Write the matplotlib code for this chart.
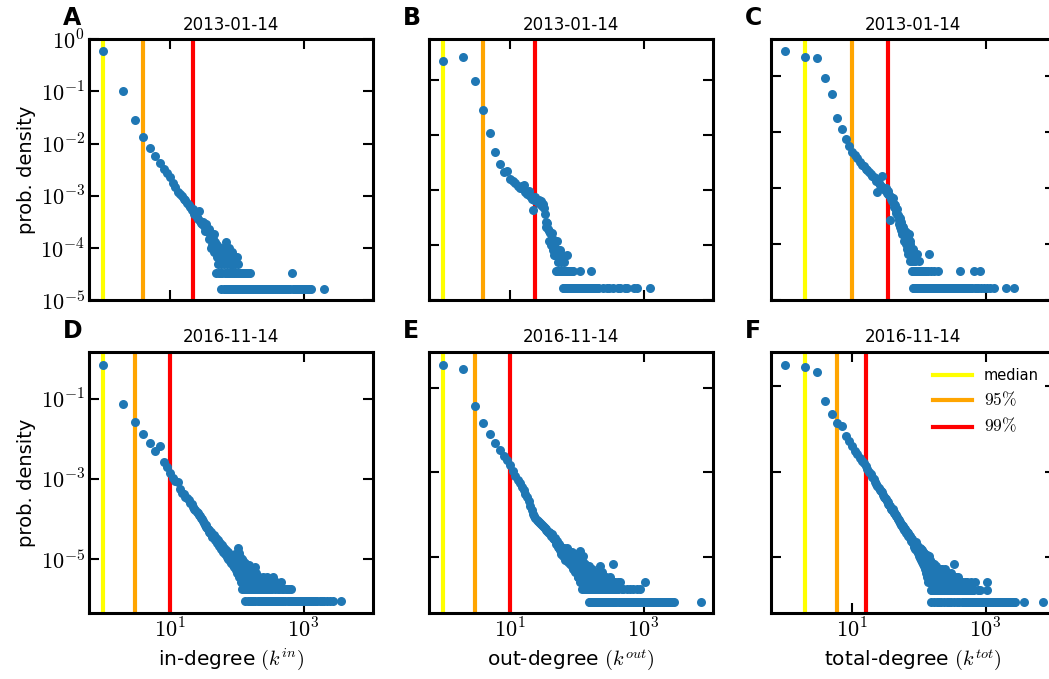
import numpy as np
import matplotlib
matplotlib.use("Agg")
import matplotlib.pyplot as plt
from matplotlib.ticker import FuncFormatter, LogLocator, NullLocator

plt.rcParams['mathtext.fontset'] = 'cm'

# number of nodes in each snapshot
n_2013 = 60000
n_2016 = 1153000

# degree distributions: (degree, number of nodes with that degree)
in_2013 = [
    (1, 36000), (2, 6240), (3, 1740), (4, 810), (5, 486), (6, 348), (7, 258), (8, 198),
    (9, 168), (10, 138), (11, 108), (12, 89), (13, 72), (14, 64), (15, 61), (16, 53),
    (17, 50), (18, 43), (19, 40), (20, 36), (21, 32), (22, 33), (23, 27), (24, 29),
    (25, 24), (26, 22), (27, 31), (28, 20), (29, 18), (30, 17), (31, 19), (32, 16),
    (33, 13), (34, 17), (35, 15), (36, 13), (37, 12), (38, 14), (39, 9), (40, 12),
    (41, 6), (42, 10), (43, 7), (44, 9), (45, 11), (46, 5), (47, 8), (48, 6),
    (49, 2), (50, 4), (51, 7), (52, 3), (53, 5), (54, 2), (55, 4), (56, 6),
    (57, 2), (58, 3), (59, 1), (60, 5), (61, 2), (62, 4), (63, 6), (64, 1),
    (65, 3), (66, 2), (67, 4), (68, 8), (69, 1), (70, 5), (71, 2), (72, 3),
    (73, 1), (74, 4), (75, 2), (76, 6), (77, 1), (78, 3), (79, 2), (80, 4),
    (81, 1), (83, 3), (84, 2), (86, 5), (87, 1), (88, 3), (90, 4), (91, 2),
    (93, 1), (95, 3), (97, 2), (99, 1), (100, 4), (103, 2), (105, 3), (106, 1),
    (110, 2), (113, 1), (117, 2), (120, 1), (124, 2), (128, 1), (131, 2), (136, 1),
    (139, 2), (145, 1), (148, 2), (154, 1), (157, 2), (164, 1), (175, 1), (186, 1),
    (198, 1), (211, 1), (225, 1), (240, 1), (256, 1), (273, 1), (291, 1), (310, 1),
    (331, 1), (353, 1), (376, 1), (401, 1), (428, 1), (456, 1), (486, 1), (518, 1),
    (552, 1), (588, 1), (627, 1), (670, 2), (690, 1), (735, 1), (784, 1), (836, 1),
    (891, 1), (950, 1), (1013, 1), (1080, 1), (1151, 1), (1227, 1), (1300, 1), (2000, 1),
]

out_2013 = [
    (1, 13100), (2, 15700), (3, 5760), (4, 1690), (5, 637), (6, 288), (7, 177), (8, 125),
    (9, 130), (10, 93), (11, 88), (12, 80), (13, 70), (14, 64), (15, 72), (16, 75),
    (17, 55), (18, 50), (19, 58), (20, 46), (21, 42), (22, 26), (23, 40), (24, 44),
    (25, 38), (26, 36), (27, 40), (28, 34), (29, 38), (30, 31), (31, 34), (32, 28),
    (33, 22), (34, 16), (35, 13), (36, 15), (37, 12), (38, 7), (39, 11), (40, 10),
    (41, 6), (42, 10), (43, 8), (44, 5), (45, 4), (46, 6), (47, 4), (48, 2),
    (49, 5), (50, 7), (51, 2), (52, 5), (53, 3), (54, 2), (55, 4), (56, 5),
    (57, 2), (58, 3), (59, 2), (60, 4), (62, 1), (63, 2), (64, 3), (65, 1),
    (66, 2), (68, 1), (70, 2), (71, 4), (72, 1), (74, 2), (75, 1), (77, 1),
    (78, 2), (80, 1), (82, 2), (83, 1), (85, 2), (86, 1), (88, 2), (89, 1),
    (92, 1), (95, 1), (98, 1), (101, 1), (104, 1), (107, 1), (110, 2), (111, 1),
    (115, 1), (119, 1), (123, 1), (128, 1), (133, 1), (138, 1), (144, 1), (150, 1),
    (156, 1), (162, 2), (163, 1), (170, 1), (178, 1), (186, 1), (195, 1), (205, 1),
    (211, 1), (250, 1), (282, 1), (300, 1), (355, 1), (420, 1), (447, 1), (530, 1),
    (560, 1), (708, 1), (794, 1), (1230, 1),
]

tot_2013 = [
    (1, 17300), (2, 13150), (3, 13000), (4, 5530), (5, 2860), (6, 1096), (7, 678), (8, 449),
    (9, 341), (10, 270), (11, 232), (12, 205), (13, 175), (14, 160), (15, 150), (16, 135),
    (17, 128), (18, 118), (19, 110), (20, 100), (21, 96), (22, 90), (23, 82), (24, 52),
    (25, 76), (26, 70), (27, 66), (28, 98), (29, 60), (30, 58), (31, 55), (32, 62),
    (33, 50), (34, 54), (35, 47), (36, 45), (37, 16), (38, 42), (39, 38), (40, 35),
    (41, 40), (42, 32), (43, 28), (44, 30), (45, 25), (46, 22), (47, 26), (48, 19),
    (49, 20), (50, 16), (51, 14), (52, 18), (53, 12), (54, 15), (55, 11), (56, 13),
    (57, 9), (58, 12), (59, 10), (60, 7), (61, 11), (62, 8), (63, 9), (64, 6),
    (65, 10), (66, 7), (67, 5), (68, 8), (69, 4), (70, 6), (71, 9), (72, 5),
    (73, 7), (74, 3), (75, 6), (76, 4), (77, 5), (78, 3), (79, 2), (80, 4),
    (81, 1), (82, 5), (83, 2), (84, 3), (85, 1), (86, 4), (87, 2), (88, 1),
    (89, 3), (90, 2), (91, 1), (93, 2), (94, 4), (95, 1), (97, 2), (98, 1),
    (100, 3), (101, 2), (103, 1), (105, 2), (107, 1), (110, 2), (112, 1), (115, 2),
    (118, 1), (121, 2), (124, 1), (128, 2), (131, 1), (135, 1), (139, 2), (141, 4),
    (143, 1), (148, 1), (150, 2), (153, 1), (158, 1), (163, 1), (168, 2), (169, 1),
    (175, 1), (181, 1), (188, 1), (195, 2), (196, 1), (204, 1), (213, 1), (222, 1),
    (232, 1), (243, 1), (255, 1), (268, 1), (282, 1), (297, 1), (313, 1), (330, 1),
    (348, 1), (367, 1), (387, 1), (408, 1), (421, 2), (430, 1), (453, 1), (477, 1),
    (503, 1), (530, 1), (558, 1), (588, 1), (620, 1), (668, 2), (700, 1), (740, 1),
    (780, 1), (841, 2), (860, 1), (950, 1), (1050, 1), (1150, 1), (1334, 1), (1995, 1),
    (2660, 1),
]

in_2016 = [
    (1, 809000), (2, 83400), (3, 30300), (4, 14650), (5, 9080), (6, 5640), (7, 7500), (8, 3050),
    (9, 2300), (10, 1570), (11, 1175), (12, 1000), (13, 950), (14, 640), (15, 516), (16, 470),
    (17, 411), (18, 370), (19, 330), (20, 281), (21, 260), (22, 225), (23, 200), (24, 190),
    (25, 170), (26, 155), (27, 140), (28, 131), (29, 120), (30, 110), (31, 100), (32, 92),
    (33, 80), (34, 78), (35, 70), (36, 68), (37, 62), (38, 60), (39, 55), (40, 50),
    (41, 55), (42, 46), (43, 40), (44, 42), (45, 44), (46, 38), (47, 33), (48, 36),
    (49, 38), (50, 34), (51, 28), (52, 30), (53, 33), (54, 28), (55, 24), (56, 26),
    (57, 29), (58, 24), (59, 20), (60, 23), (61, 25), (62, 21), (63, 17), (64, 19),
    (65, 21), (66, 18), (67, 15), (68, 17), (69, 19), (70, 16), (71, 13), (72, 14),
    (73, 17), (74, 13), (75, 11), (76, 14), (77, 15), (78, 12), (79, 10), (80, 11),
    (81, 14), (82, 12), (83, 9), (84, 10), (85, 13), (86, 11), (87, 8), (88, 9),
    (89, 12), (90, 10), (91, 7), (92, 8), (93, 11), (94, 9), (95, 15), (96, 7),
    (97, 6), (98, 8), (99, 10), (100, 6), (101, 5), (102, 9), (103, 12), (104, 7),
    (105, 8), (106, 21), (107, 16), (108, 5), (109, 4), (110, 7), (111, 10), (112, 6),
    (113, 13), (114, 4), (115, 3), (116, 8), (117, 9), (118, 5), (119, 11), (120, 3),
    (121, 2), (122, 6), (123, 8), (124, 4), (125, 10), (126, 3), (127, 4), (128, 5),
    (129, 7), (130, 2), (131, 9), (133, 1), (134, 6), (135, 4), (137, 8), (138, 3),
    (139, 2), (140, 5), (141, 7), (142, 2), (144, 5), (145, 1), (147, 6), (148, 3),
    (150, 4), (151, 8), (153, 2), (155, 3), (156, 1), (158, 5), (160, 3), (162, 6),
    (163, 2), (165, 4), (166, 1), (168, 5), (170, 4), (172, 3), (174, 2), (176, 6),
    (178, 1), (180, 2), (182, 3), (184, 4), (186, 2), (188, 7), (190, 1), (192, 5),
    (195, 2), (198, 2), (200, 3), (203, 4), (205, 1), (210, 2), (213, 3), (216, 1),
    (219, 4), (222, 3), (226, 2), (228, 1), (234, 2), (237, 3), (240, 1), (244, 4),
    (247, 2), (251, 2), (254, 1), (258, 3), (261, 2), (268, 1), (272, 2), (276, 1),
    (280, 4), (284, 3), (292, 1), (296, 2), (300, 2), (310, 1), (315, 3), (320, 2),
    (330, 1), (335, 2), (340, 1), (350, 4), (355, 3), (365, 1), (372, 2), (380, 1),
    (390, 3), (395, 1), (410, 2), (425, 1), (430, 2), (445, 1), (455, 3), (465, 1),
    (475, 2), (485, 1), (501, 2), (520, 1), (540, 2), (560, 2), (580, 1), (600, 2),
    (610, 1), (640, 1), (650, 2), (670, 1), (700, 1), (740, 1), (780, 1), (830, 1),
    (880, 1), (940, 1), (1000, 1), (1070, 1), (1140, 1), (1220, 1), (1300, 1), (1400, 1),
    (1500, 1), (1620, 1), (1750, 1), (1900, 1), (2050, 1), (2250, 1), (2500, 1), (2800, 1),
    (3700, 1),
]

out_2016 = [
    (1, 401000), (2, 311000), (3, 42800), (4, 16400), (5, 9040), (6, 5750), (7, 3860), (8, 2840),
    (9, 2250), (10, 1720), (11, 1250), (12, 950), (13, 780), (14, 640), (15, 520), (16, 430),
    (17, 360), (18, 300), (19, 240), (20, 190), (21, 150), (22, 120), (23, 105), (24, 95),
    (25, 88), (26, 82), (27, 78), (28, 73), (29, 68), (30, 65), (31, 62), (32, 60),
    (33, 56), (34, 54), (35, 51), (36, 48), (37, 46), (38, 44), (39, 43), (40, 42),
    (41, 36), (42, 38), (43, 40), (44, 33), (45, 30), (46, 30), (47, 33), (48, 27),
    (49, 24), (50, 25), (51, 28), (52, 22), (53, 20), (54, 19), (55, 23), (56, 17),
    (57, 21), (58, 16), (59, 14), (60, 15), (61, 18), (62, 14), (63, 12), (64, 19),
    (65, 16), (66, 13), (67, 10), (68, 11), (69, 15), (70, 12), (71, 18), (72, 19),
    (73, 9), (74, 10), (75, 14), (76, 13), (77, 11), (78, 9), (79, 8), (80, 14),
    (81, 13), (82, 8), (83, 10), (84, 11), (85, 15), (86, 7), (87, 6), (88, 10),
    (89, 12), (90, 9), (91, 9), (92, 6), (93, 14), (94, 8), (95, 5), (96, 12),
    (97, 10), (98, 7), (99, 8), (100, 5), (101, 13), (102, 9), (103, 4), (104, 6),
    (105, 11), (106, 4), (107, 7), (108, 8), (109, 10), (110, 5), (111, 3), (112, 16),
    (113, 9), (114, 3), (115, 12), (116, 7), (117, 5), (118, 4), (119, 8), (120, 6),
    (121, 2), (122, 3), (123, 7), (124, 12), (125, 9), (126, 5), (127, 4), (128, 2),
    (129, 6), (130, 4), (131, 3), (132, 6), (133, 8), (134, 3), (135, 5), (136, 2),
    (137, 7), (138, 5), (139, 2), (140, 3), (141, 6), (142, 4), (144, 4), (145, 2),
    (147, 5), (148, 3), (150, 1), (151, 7), (152, 5), (154, 3), (155, 2), (157, 4),
    (158, 1), (160, 3), (162, 5), (164, 2), (166, 3), (168, 1), (170, 6), (172, 4),
    (174, 2), (176, 2), (178, 4), (180, 1), (183, 5), (185, 3), (188, 3), (190, 2),
    (193, 4), (195, 1), (198, 2), (200, 3), (203, 5), (206, 1), (209, 3), (212, 2),
    (215, 4), (218, 1), (221, 2), (224, 7), (226, 1), (229, 3), (232, 2), (236, 5),
    (240, 1), (244, 2), (248, 3), (252, 4), (256, 1), (260, 3), (264, 2), (268, 2),
    (272, 1), (277, 4), (282, 3), (286, 2), (290, 1), (295, 3), (300, 2), (305, 2),
    (310, 1), (315, 4), (320, 2), (327, 3), (332, 1), (340, 2), (345, 1), (350, 3),
    (355, 8), (358, 2), (365, 2), (370, 1), (380, 3), (385, 1), (395, 2), (400, 2),
    (410, 2), (420, 3), (425, 1), (440, 3), (450, 1), (470, 2), (480, 1), (500, 2),
    (510, 1), (540, 1), (560, 2), (575, 1), (610, 1), (620, 2), (650, 1), (690, 1),
    (700, 2), (735, 1), (780, 1), (794, 2), (830, 1), (880, 1), (900, 2), (940, 1),
    (1000, 1), (1060, 3), (1065, 1), (1130, 1), (1200, 1), (1280, 1), (1360, 1), (1450, 1),
    (1550, 1), (1650, 1), (1760, 1), (1880, 1), (2000, 1), (2150, 1), (2300, 1), (2480, 1),
    (2650, 1), (2820, 1), (7200, 1),
]

tot_2016 = [
    (1, 352000), (2, 321000), (3, 245000), (4, 51600), (5, 25200), (6, 16100), (7, 13500), (8, 7870),
    (9, 6010), (10, 4600), (11, 3520), (12, 2900), (13, 2400), (14, 2050), (15, 1800), (16, 1550),
    (17, 1300), (18, 1150), (19, 1000), (20, 880), (21, 760), (22, 660), (23, 590), (24, 520),
    (25, 470), (26, 430), (27, 400), (28, 374), (29, 330), (30, 300), (31, 280), (32, 260),
    (33, 240), (34, 220), (35, 200), (36, 190), (37, 180), (38, 165), (39, 155), (40, 145),
    (41, 150), (42, 130), (43, 125), (44, 118), (45, 110), (46, 105), (47, 100), (48, 92),
    (49, 88), (50, 84), (51, 80), (52, 76), (53, 72), (54, 70), (55, 64), (56, 66),
    (57, 63), (58, 60), (59, 55), (60, 56), (61, 50), (62, 52), (63, 49), (64, 48),
    (65, 42), (66, 45), (67, 44), (68, 42), (69, 36), (70, 40), (71, 38), (72, 36),
    (73, 32), (74, 34), (75, 36), (76, 32), (77, 27), (78, 29), (79, 31), (80, 27),
    (81, 24), (82, 25), (83, 28), (84, 24), (85, 20), (86, 22), (87, 25), (88, 21),
    (89, 18), (90, 23), (91, 26), (92, 19), (93, 16), (94, 20), (95, 22), (96, 17),
    (97, 14), (98, 18), (99, 20), (100, 15), (101, 12), (102, 17), (103, 19), (104, 14),
    (105, 11), (106, 16), (107, 18), (108, 13), (109, 10), (110, 12), (111, 17), (112, 14),
    (113, 9), (114, 11), (115, 15), (116, 12), (117, 8), (118, 10), (119, 14), (120, 11),
    (121, 7), (122, 9), (123, 13), (124, 10), (125, 6), (126, 8), (127, 12), (128, 9),
    (129, 5), (130, 7), (131, 13), (132, 11), (133, 4), (134, 8), (135, 11), (136, 6),
    (137, 3), (138, 9), (139, 10), (140, 7), (141, 12), (142, 5), (143, 4), (144, 8),
    (145, 9), (146, 6), (147, 3), (148, 4), (149, 10), (150, 7), (151, 2), (152, 1),
    (153, 8), (154, 5), (155, 9), (156, 3), (157, 2), (158, 6), (159, 7), (160, 4),
    (161, 8), (162, 2), (163, 3), (164, 5), (165, 7), (166, 3), (167, 2), (168, 1),
    (169, 5), (170, 6), (171, 8), (173, 4), (175, 3), (176, 2), (177, 6), (179, 5),
    (181, 5), (182, 3), (183, 7), (185, 1), (187, 2), (188, 4), (189, 6), (191, 2),
    (193, 3), (194, 6), (196, 5), (197, 3), (199, 4), (200, 1), (202, 2), (204, 5),
    (206, 6), (208, 2), (210, 3), (212, 4), (214, 5), (216, 1), (218, 2), (220, 3),
    (222, 4), (225, 6), (228, 3), (230, 2), (233, 5), (235, 4), (238, 2), (240, 1),
    (243, 4), (245, 3), (248, 6), (250, 5), (253, 3), (256, 2), (259, 2), (262, 1),
    (265, 5), (268, 4), (271, 3), (274, 2), (277, 2), (280, 3), (284, 4), (287, 1),
    (291, 3), (294, 2), (297, 2), (300, 5), (304, 4), (308, 1), (312, 2), (316, 3),
    (320, 3), (324, 2), (330, 4), (335, 8), (340, 1), (345, 3), (350, 2), (355, 2),
    (360, 4), (365, 3), (370, 1), (375, 2), (380, 3), (387, 4), (392, 2), (398, 3),
    (405, 1), (410, 2), (418, 3), (424, 3), (430, 2), (437, 2), (445, 1), (452, 3),
    (460, 2), (468, 2), (475, 1), (483, 2), (490, 3), (497, 2), (505, 1), (520, 2),
    (530, 3), (540, 1), (550, 2), (560, 2), (580, 1), (590, 2), (600, 3), (620, 1),
    (630, 2), (645, 2), (660, 2), (670, 1), (700, 3), (708, 1), (740, 1), (770, 2),
    (800, 1), (840, 2), (850, 1), (900, 1), (950, 1), (1000, 1), (1060, 3), (1070, 2),
    (1080, 1), (1150, 1), (1220, 1), (1300, 1), (1380, 1), (1470, 1), (1560, 1), (1660, 1),
    (1770, 1), (1890, 1), (2020, 1), (2160, 1), (2310, 1), (2470, 1), (2640, 1), (2800, 1),
    (3750, 1), (7300, 1),
]

# median, 95th and 99th percentile of each distribution
pct_in_2013 = [1, 4, 22]
pct_out_2013 = [1, 4, 24]
pct_tot_2013 = [2, 10, 34]
pct_in_2016 = [1, 3, 10]
pct_out_2016 = [1, 3, 10]
pct_tot_2016 = [2, 6, 16]

pct_labels = ['median', r'$95\%$', r'$99\%$']
pct_colors = ['yellow', 'orange', 'red']

panels = [
    ('A', '2013-01-14', in_2013, n_2013, pct_in_2013, (1e-5, 1.0)),
    ('B', '2013-01-14', out_2013, n_2013, pct_out_2013, (1e-5, 0.54)),
    ('C', '2013-01-14', tot_2013, n_2013, pct_tot_2013, (1e-5, 0.46)),
    ('D', '2016-11-14', in_2016, n_2016, pct_in_2016, (4.4e-7, 1.45)),
    ('E', '2016-11-14', out_2016, n_2016, pct_out_2016, (4.8e-7, 0.69)),
    ('F', '2016-11-14', tot_2016, n_2016, pct_tot_2016, (4.9e-7, 0.63)),
]
xlabels = [r'in-degree $(k^{in})$', r'out-degree $(k^{out})$', r'total-degree $(k^{tot})$']

W, H = 1049, 679
fig = plt.figure(figsize=(W / 100, H / 100), dpi=100)

lefts = [89, 429, 771]
tops = [39.3, 352]
aw, ah = 284, 261


def pow10(v, pos):
    return r'$10^{%d}$' % round(np.log10(v))


for i, (letter, date, dist, n_nodes, pct, ylim) in enumerate(panels):
    row, col = divmod(i, 3)
    left, top = lefts[col], tops[row]
    ax = fig.add_axes([left / W, 1 - (top + ah) / H, aw / W, ah / H])

    for xv, c, lab in zip(pct, pct_colors, pct_labels):
        ax.axvline(xv, color=c, lw=3, label=lab)

    deg, cnt = zip(*dist)
    dens = np.array(cnt) / n_nodes
    ax.plot(deg, dens, 'o', ms=6.5, mew=0, color='#1f77b4')

    ax.set_xscale('log')
    ax.set_yscale('log')
    ax.set_xlim(0.61, 11000)

    ax.set_xticks([10, 1000])
    ax.xaxis.set_minor_locator(NullLocator())
    if row == 0:
        ax.set_yticks([1e-5, 1e-4, 1e-3, 1e-2, 1e-1, 1e0])
    else:
        ax.set_yticks([1e-5, 1e-3, 1e-1])
    if i == 0:
        ax.yaxis.set_minor_locator(LogLocator(base=10, subs=range(2, 10)))
    else:
        ax.yaxis.set_minor_locator(NullLocator())
    ax.set_ylim(*ylim)
    ax.xaxis.set_major_formatter(FuncFormatter(pow10))
    ax.yaxis.set_major_formatter(FuncFormatter(pow10))

    ax.tick_params(which='both', direction='in', top=True, right=True,
                   labelsize=16, pad=3)
    ax.tick_params(which='major', length=7, width=1.5)
    ax.tick_params(which='minor', length=4, width=1)
    ax.tick_params(labelleft=(col == 0), labelbottom=(row == 1))
    for sp in ax.spines.values():
        sp.set_linewidth(2.2)

    ax.set_title(date, fontsize=12, pad=7)
    if col == 0:
        ax.set_ylabel('prob. density', fontsize=14, labelpad=3)
    if row == 1:
        ax.set_xlabel(xlabels[col], fontsize=14.5, labelpad=4)

    fig.text((left - 26) / W, 1 - (top - 14) / H, letter, fontsize=17,
             fontweight='bold', ha='left', va='baseline')

    if letter == 'F':
        leg = ax.legend(loc='upper right', frameon=False, fontsize=10.5,
                        handlelength=2.7, handletextpad=0.8, labelspacing=0.55,
                        bbox_to_anchor=(0.99, 0.99))
        # percent labels are mathtext, set them a little larger
        for t in leg.get_texts()[1:]:
            t.set_fontsize(12.5)

fig.savefig('out.png', dpi=100)
